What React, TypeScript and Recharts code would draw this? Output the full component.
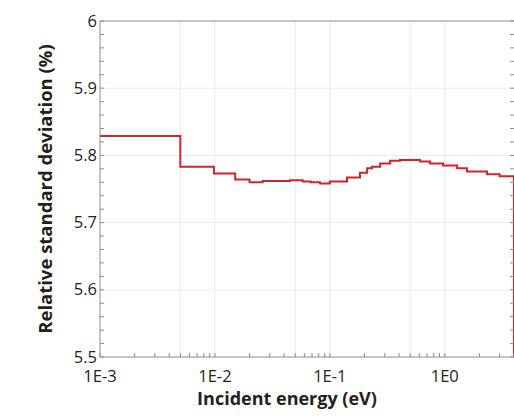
import React from 'react';
import { LineChart, Line, XAxis, YAxis, ReferenceLine } from 'recharts';

// group lower bounds (eV) and the relative standard deviation in each group (%)
const ENERGY = [
  0.001, 0.005, 0.0098, 0.015, 0.02, 0.026, 0.045, 0.058, 0.068, 0.082, 0.1,
  0.141, 0.183, 0.211, 0.233, 0.274, 0.334, 0.408, 0.499, 0.61, 0.745, 0.966,
  1.28, 1.56, 2.33, 3.0, 4.0,
];
const RSD = [
  5.829, 5.783, 5.773, 5.764, 5.76, 5.762, 5.763, 5.761, 5.76, 5.758, 5.761,
  5.767, 5.774, 5.781, 5.783, 5.788, 5.792, 5.793, 5.793, 5.791, 5.788, 5.785,
  5.781, 5.776, 5.772, 5.769, 5.3,
];

const X_MAJOR = [0.001, 0.01, 0.1, 1];
const X_LABELS = ['1E-3', '1E-2', '1E-1', '1E0'];
const X_GRID = [0.005, 0.01, 0.05, 0.1, 0.5, 1];

const Y_MAJOR = [5.5, 5.6, 5.7, 5.8, 5.9, 6];
const Y_LABELS = ['5.5', '5.6', '5.7', '5.8', '5.9', '6'];
const Y_GRID = [5.6, 5.7, 5.8, 5.9];

const data = ENERGY.map((e, i) => ({ energy: e, rsd: RSD[i] }));

// 1..9 within each decade, up to the end of the axis
const xTicks = X_MAJOR.flatMap(d => [1, 2, 3, 4, 5, 6, 7, 8, 9].map(m => +(m * d).toPrecision(3))).filter(v => v <= 4);
const yTicks = Array.from({ length: 26 }, (_, i) => +(5.5 + i * 0.02).toFixed(2));

const FONT = '"Open Sans", sans-serif';
const AXIS = '#8c8c8c';
const TEXT = '#231f20';

const xLabel = (v: number) => {
  const i = X_MAJOR.findIndex(m => Math.abs(m - v) < 1e-9);
  return i >= 0 ? X_LABELS[i] : null;
};
const yLabel = (v: number) => {
  const i = Y_MAJOR.findIndex(m => Math.abs(m - v) < 1e-9);
  return i >= 0 ? Y_LABELS[i] : null;
};

const BottomTick = ({ x, y, payload }: any) => {
  const label = xLabel(payload.value);
  return (
    <g>
      <line x1={x} y1={y} x2={x} y2={y - 4} stroke={AXIS} />
      {label && (
        <text x={x} y={y + 25} textAnchor="middle" fontSize={16.5} fill={TEXT} fontFamily={FONT}>
          {label}
        </text>
      )}
    </g>
  );
};

const TopTick = ({ x, y }: any) => <line x1={x} y1={y} x2={x} y2={y + 4} stroke={AXIS} />;

const LeftTick = ({ x, y, payload }: any) => {
  const label = yLabel(payload.value);
  return (
    <g>
      <line x1={x} y1={y} x2={x + 4} y2={y} stroke={AXIS} />
      {label && (
        <text x={x - 3} y={y} dy="0.34em" textAnchor="end" fontSize={16.5} fill={TEXT} fontFamily={FONT}>
          {label}
        </text>
      )}
    </g>
  );
};

const RightTick = ({ x, y }: any) => <line x1={x} y1={y} x2={x - 4} y2={y} stroke={AXIS} />;

export default function App() {
  return (
    <div style={{ position: 'absolute', left: 0, top: 0, width: 514, height: 419, overflow: 'hidden', background: '#fff' }}>
      <LineChart width={530} height={419} data={data} margin={{ top: 20, right: 15, bottom: 0, left: 0 }}>
        {X_GRID.map(v => (
          <ReferenceLine key={`gx-${v}`} x={v} stroke="#ebebeb" />
        ))}
        {Y_GRID.map(v => (
          <ReferenceLine key={`gy-${v}`} y={v} stroke="#ebebeb" />
        ))}
        <XAxis
          dataKey="energy"
          type="number"
          scale="log"
          domain={[0.001, 4]}
          allowDataOverflow
          ticks={xTicks}
          interval={0}
          tickSize={0}
          tickMargin={0}
          tick={<BottomTick />}
          height={62}
          stroke={AXIS}
          label={{
            content: ({ viewBox }: any) => (
              <text
                x={viewBox.x + viewBox.width / 2 - 20}
                y={viewBox.y + 48}
                textAnchor="middle"
                fontSize={18}
                fontWeight="bold"
                fill={TEXT}
                fontFamily={FONT}
              >
                Incident energy (eV)
              </text>
            ),
          }}
        />
        <XAxis
          xAxisId="top"
          orientation="top"
          type="number"
          scale="log"
          domain={[0.001, 4]}
          allowDataOverflow
          ticks={xTicks}
          interval={0}
          tickSize={0}
          tickMargin={0}
          tick={<TopTick />}
          height={1}
          stroke={AXIS}
        />
        <YAxis
          type="number"
          domain={[5.5, 6]}
          allowDataOverflow
          ticks={yTicks}
          interval={0}
          tickSize={0}
          tickMargin={0}
          tick={<LeftTick />}
          width={100}
          stroke={AXIS}
          label={{
            content: ({ viewBox }: any) => {
              const cx = viewBox.x + 44;
              const cy = viewBox.y + viewBox.height / 2;
              return (
                <text
                  x={cx}
                  y={cy}
                  transform={`rotate(-90 ${cx} ${cy})`}
                  textAnchor="middle"
                  dominantBaseline="central"
                  fontSize={18.5}
                  fontWeight="bold"
                  fill={TEXT}
                  fontFamily={FONT}
                >
                  Relative standard deviation (%)
                </text>
              );
            },
          }}
        />
        <YAxis
          yAxisId="right"
          orientation="right"
          type="number"
          domain={[5.5, 6]}
          allowDataOverflow
          ticks={yTicks}
          interval={0}
          tickSize={0}
          tickMargin={0}
          tick={<RightTick />}
          axisLine={false}
          width={1}
        />
        <Line
          type="stepAfter"
          dataKey="rsd"
          stroke="#d1232b"
          strokeWidth={2}
          dot={false}
          isAnimationActive={false}
        />
      </LineChart>
    </div>
  );
}
